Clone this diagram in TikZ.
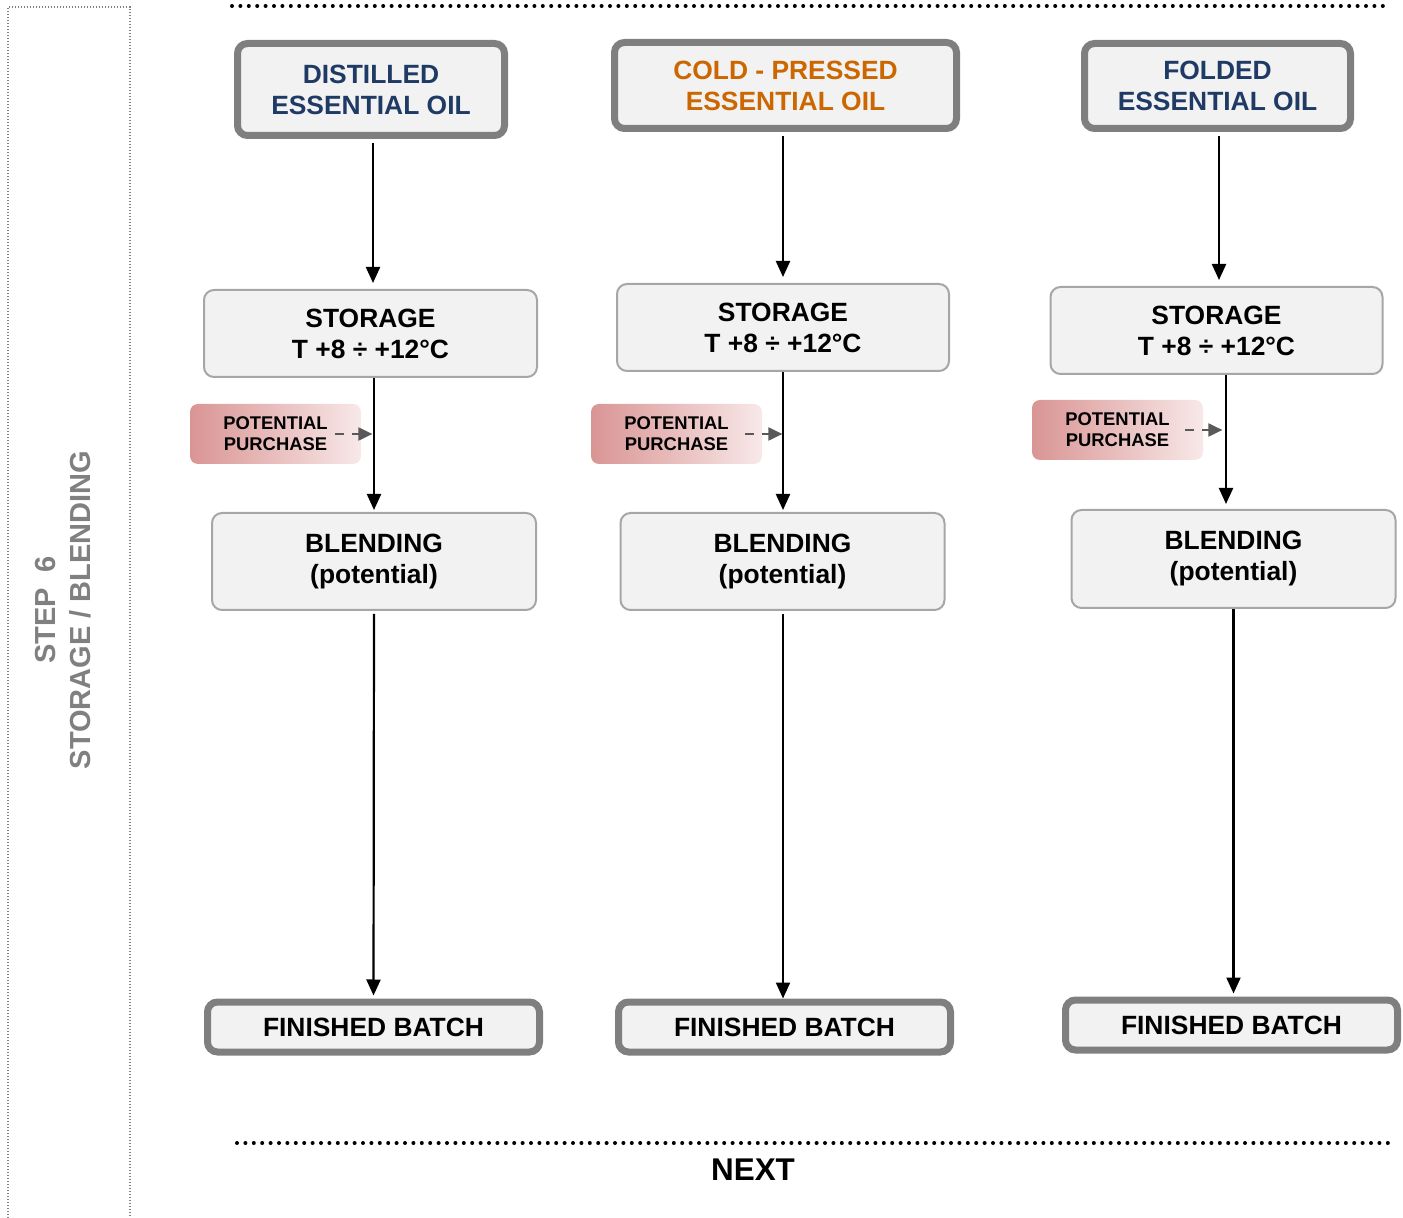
\documentclass[tikz,border=0pt]{standalone}
\usepackage{fontspec}
\setmainfont{Liberation Sans}
\usetikzlibrary{arrows.meta}
\definecolor{boxfill}{HTML}{F2F2F2}
\definecolor{thickgray}{HTML}{7F7F7F}
\definecolor{thingray}{HTML}{A6A6A6}
\definecolor{oilblue}{HTML}{1F3A64}
\definecolor{oilorange}{HTML}{CC6600}
\definecolor{ppleft}{HTML}{D99594}
\definecolor{ppright}{HTML}{F8E8E8}
\definecolor{dashgray}{HTML}{595959}
\definecolor{stepgray}{HTML}{808080}
\tikzset{
  mainfont/.style={font=\fontsize{13.2pt}{15.5pt}\selectfont\bfseries},
  thickbox/.style={draw=thickgray, line width=3.5pt, fill=boxfill, rounded corners=5pt,
    align=center, inner sep=0pt, mainfont},
  thinbox/.style={draw=thingray, line width=1pt, fill=boxfill, rounded corners=5pt,
    align=center, inner sep=0pt, mainfont},
  ppbox/.style={left color=ppleft, right color=ppright, rounded corners=4pt,
    minimum width=85.5pt, minimum height=30pt, inner sep=0pt, align=center,
    font=\fontsize{9.2pt}{10.5pt}\selectfont\bfseries},
  arr/.style={line width=1.1pt, -{Triangle[width=7pt,length=8pt]}},
  dasharr/.style={draw=dashgray, line width=1pt, dash pattern=on 4.5pt off 4pt,
    -{Triangle[width=6.5pt,length=7pt,fill=dashgray]}},
  dotline/.style={line width=2pt, line cap=round, dash pattern=on 0pt off 4.2pt},
}
\begin{document}
\begin{tikzpicture}[x=0.5pt,y=-0.5pt]
\useasboundingbox (0,0) rectangle (1403,1218);

% left dotted frame
\draw[stepgray, line width=0.6pt, dash pattern=on 0.6pt off 0.9pt]
  (8,1218) -- (8,7) -- (130,7) -- (130,1218);
\node[rotate=90, align=center, text=stepgray,
  font=\fontsize{14.5pt}{17.5pt}\selectfont\bfseries] (step) at (63,610)
  {STEP\ \ 6\\STORAGE / BLENDING};

% dotted separators
\draw[dotline] (232,6) -- (1388,6);
\draw[dotline] (237,1143) -- (1390,1143);
\node[font=\fontsize{15.7pt}{18pt}\selectfont\bfseries] (next) at (753,1170) {NEXT};

% column 1
\node[thickbox, text=oilblue, minimum width=133.5pt, minimum height=46pt] (top1) at (371,89.5)
  {DISTILLED\\ESSENTIAL OIL};
\node[thinbox, minimum width=166.5pt, minimum height=43.5pt] (st1) at (370.5,333.5)
  {STORAGE\\T +8 ÷ +12°C};
\node[thinbox, minimum width=162pt, minimum height=48.5pt] (bl1) at (374,561.5)
  {BLENDING\\(potential)};
\node[thickbox, minimum width=166pt, minimum height=25pt] (fin1) at (373.5,1027)
  {FINISHED BATCH};
\node[ppbox] (pp1) at (275.5,434) {POTENTIAL\\PURCHASE};

\draw[arr, shorten <=2pt, shorten >=3pt] ([xshift=1pt]top1.south) -- ([xshift=1pt]top1.south |- st1.north);
\draw[arr, shorten >=1pt] (st1.south -| bl1.north) -- (bl1.north);
\draw[arr, shorten <=1.5pt, shorten >=1.5pt] (bl1.south) -- (fin1.north);
\draw[dasharr] ([xshift=-13pt]pp1.east) -- ([xshift=5.5pt]pp1.east);

% column 2
\node[thickbox, text=oilorange, minimum width=171pt, minimum height=43pt] (top2) at (785.5,85.5)
  {COLD - PRESSED\\ESSENTIAL OIL};
\node[thinbox, minimum width=166pt, minimum height=43.5pt] (st2) at (783,327.5)
  {STORAGE\\T +8 ÷ +12°C};
\node[thinbox, minimum width=162pt, minimum height=48.5pt] (bl2) at (782.5,561.5)
  {BLENDING\\(potential)};
\node[thickbox, minimum width=166pt, minimum height=25pt] (fin2) at (784.5,1027)
  {FINISHED BATCH};
\node[ppbox] (pp2) at (676.5,434) {POTENTIAL\\PURCHASE};

\draw[arr, shorten <=2pt, shorten >=3pt] ([xshift=-1.25pt]top2.south) -- ([xshift=-1.25pt]top2.south |- st2.north);
\draw[arr, shorten >=1pt] (st2.south) -- (st2.south |- bl2.north);
\draw[arr, shorten <=1.5pt, shorten >=0pt] (bl2.south -| st2.south) -- (fin2.north -| st2.south);
\draw[dasharr] ([xshift=-8.5pt]pp2.east) -- ([xshift=10pt]pp2.east);

% column 3
\node[thickbox, text=oilblue, minimum width=133pt, minimum height=42.5pt] (top3) at (1217.5,86)
  {FOLDED\\ESSENTIAL OIL};
\node[thinbox, minimum width=166pt, minimum height=43.5pt] (st3) at (1216.5,330.5)
  {STORAGE\\T +8 ÷ +12°C};
\node[thinbox, minimum width=162pt, minimum height=49pt] (bl3) at (1233.5,559)
  {BLENDING\\(potential)};
\node[thickbox, minimum width=166pt, minimum height=25pt] (fin3) at (1231.5,1025)
  {FINISHED BATCH};
\node[ppbox] (pp3) at (1117.5,430) {POTENTIAL\\PURCHASE};

\draw[arr, shorten <=2pt, shorten >=3pt] ([xshift=0.75pt]top3.south) -- ([xshift=0.75pt]top3.south |- st3.north);
\draw[arr, shorten >=2.5pt] ([xshift=4.75pt]st3.south) -- ([xshift=4.75pt]st3.south |- bl3.north);
\draw[arr, shorten >=1.5pt] (bl3.south) -- (bl3.south |- fin3.north);
\draw[dasharr] ([xshift=-9pt]pp3.east) -- ([xshift=9.5pt]pp3.east);
\end{tikzpicture}
\end{document}
